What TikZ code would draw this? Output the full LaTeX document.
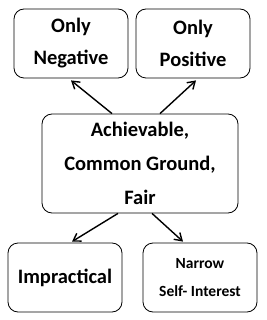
\documentclass[tikz,border=0pt]{standalone}
\usepackage{fontspec}
\setmainfont{Carlito}
\usetikzlibrary{arrows.meta,positioning,calc}

\begin{document}
\begin{tikzpicture}[
  x=1pt,y=1pt,
  box/.style={draw,line width=0.8pt,rounded corners=10pt,align=center,font=\bfseries\fontsize{20.5}{32}\selectfont,inner sep=0pt,minimum width=114pt,minimum height=69pt},
  mid/.style={box,font=\bfseries\fontsize{20.5}{34}\selectfont,minimum width=196pt,minimum height=99pt},
  small/.style={box,font=\bfseries\fontsize{15.5}{28}\selectfont},
  arr/.style={-{Straight Barb[length=2.5mm,width=3.2mm]},line width=1.4pt}
]
\useasboundingbox (0,0) rectangle (266,-320);
\node[mid] (goal) at (140,-163.5) {Achievable,\\Common Ground,\\Fair};
\node[box] (neg) at (71,-43.5) {Only\\Negative};
\node[box] (pos) at (193,-43.5) {Only\\Positive};
\node[box] (imp) at (65,-277.5) {Impractical};
\node[small] (self) at (200,-277.5) {Narrow\\Self- Interest};
\draw[arr] ([xshift=-28pt]goal.north) -- ([yshift=-2pt]neg.south);
\draw[arr] ([xshift=20pt]goal.north) -- ([xshift=3pt,yshift=-2pt]pos.south);
\draw[arr] ([xshift=-22pt]goal.south) -- ([xshift=7pt,yshift=1pt]imp.north);
\draw[arr] ([xshift=12pt]goal.south) -- ([xshift=-17pt,yshift=1pt]self.north);
\end{tikzpicture}
\end{document}
